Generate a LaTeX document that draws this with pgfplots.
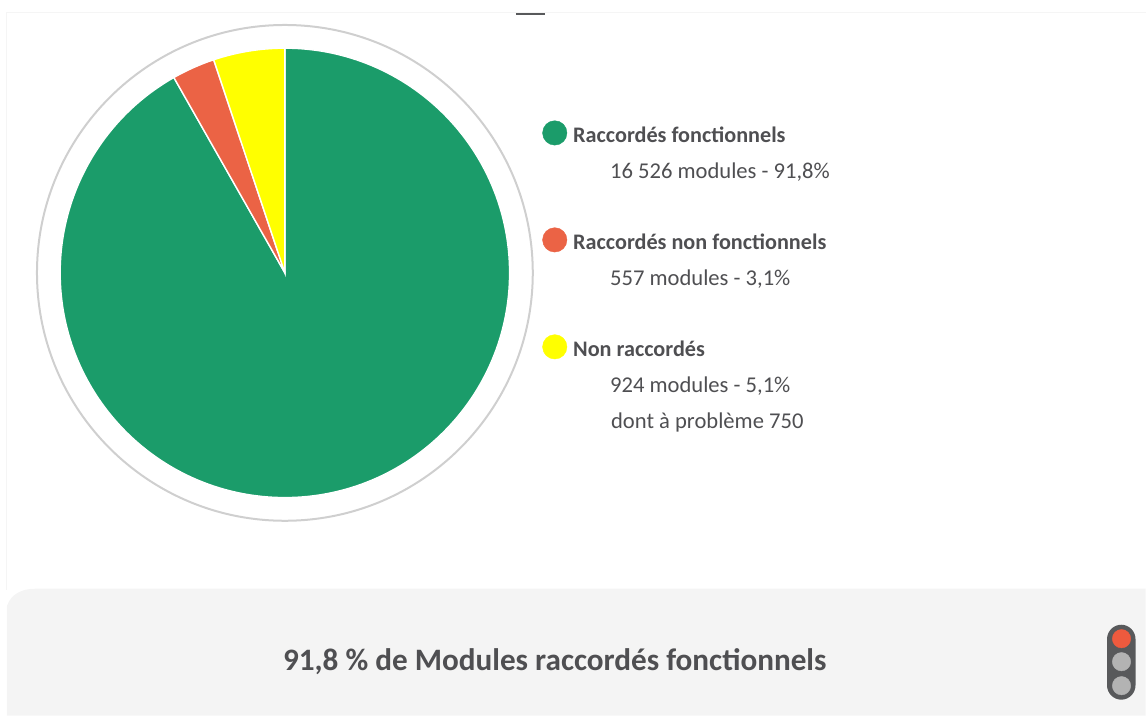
\documentclass[border=0pt]{standalone}
\usepackage{pgfplots}
\pgfplotsset{compat=1.18}
\usepackage{fontspec}
\setmainfont{Carlito}
\definecolor{cgreen}{HTML}{1B9C6A}
\definecolor{cred}{HTML}{EB6345}
\definecolor{cyellow}{HTML}{FFFF00}
\definecolor{ctext}{HTML}{4F4F52}
\definecolor{cpanel}{HTML}{F4F4F4}
\definecolor{cbody}{HTML}{58595B}
\definecolor{clight}{HTML}{EE5A3E}
\definecolor{coff}{HTML}{B3B3B3}
\definecolor{cring}{HTML}{CFCFCF}
% slice values (hundreds of modules: 16526, 557, 924)
\def\vGreen{165.26}
\def\vRed{5.57}
\def\vYellow{9.24}
\pgfmathsetmacro\vTotal{\vGreen+\vRed+\vYellow}
\pgfmathsetmacro\aGreen{\vGreen/\vTotal*360}
\pgfmathsetmacro\aRed{\vRed/\vTotal*360}
\pgfmathsetmacro\aYellow{\vYellow/\vTotal*360}
\begin{document}
\begin{tikzpicture}
\begin{axis}[
  scale only axis, width=573pt, height=358pt,
  xmin=0, xmax=1146, ymin=0, ymax=716, y dir=reverse,
  hide axis, clip=false,
]
% page extent
\path (axis cs:0,0) rectangle (axis cs:1146,716);
% frame lines
\draw[color=black!4, line width=0.5pt] (axis cs:7,590) -- (axis cs:7,13) -- (axis cs:1146,13);
\draw[color=cbody, line width=1pt] (axis cs:516,14.5) -- (axis cs:545,14.5);
% bottom panel
\fill[cpanel] (axis cs:7,716) -- (axis cs:7,606) to[out=70,in=180] (axis cs:35,589) -- (axis cs:1146,589) -- (axis cs:1146,716) -- cycle;
% ring
\draw[cring, line width=1pt] (axis cs:285,273) circle[radius=124pt];
% pie
\def\pc{(axis cs:285,273)}
\filldraw[fill=cgreen, draw=white, line width=0.7pt] \pc -- ++(90:112.4pt) arc[start angle=90, delta angle=-\aGreen, radius=112.4pt] -- cycle;
\pgfmathsetmacro\sRed{90-\aGreen}
\filldraw[fill=cred, draw=white, line width=0.7pt] \pc -- ++(\sRed:112.4pt) arc[start angle=\sRed, delta angle=-\aRed, radius=112.4pt] -- cycle;
\pgfmathsetmacro\sYellow{\sRed-\aRed}
\filldraw[fill=cyellow, draw=white, line width=0.7pt] \pc -- ++(\sYellow:112.4pt) arc[start angle=\sYellow, delta angle=-\aYellow, radius=112.4pt] -- cycle;
% legend markers
\addplot[only marks, mark=*, mark size=6.1pt, mark options={fill=cgreen, draw=cgreen, line width=0.2pt}] coordinates {(555,133)};
\addplot[only marks, mark=*, mark size=6.1pt, mark options={fill=cred, draw=cred, line width=0.2pt}] coordinates {(555,240)};
\addplot[only marks, mark=*, mark size=6.1pt, mark options={fill=cyellow, draw=cyellow, line width=0.2pt}] coordinates {(555,347)};
% legend text
\tikzset{lb/.style={anchor=base west, inner sep=0pt, text=ctext, font=\fontsize{11.1}{13}\selectfont\bfseries},
         lt/.style={anchor=base west, inner sep=0pt, text=ctext, font=\fontsize{11.3}{13}\selectfont}}
\node[lb] at (axis cs:573,143) {Raccordés fonctionnels};
\node[lt] at (axis cs:610,179) {16 526 modules - 91,8\%};
\node[lb] at (axis cs:573,250) {Raccordés non fonctionnels};
\node[lt] at (axis cs:610,286) {557 modules - 3,1\%};
\node[lb] at (axis cs:573,357) {Non raccordés};
\node[lt] at (axis cs:610,393) {924 modules - 5,1\%};
\node[lt] at (axis cs:611,429) {dont à problème 750};
% panel title
\node[anchor=base, inner sep=0pt, text=ctext, font=\fontsize{15.6}{18}\selectfont\bfseries] at (axis cs:555,671) {91,8 \% de Modules raccordés fonctionnels};
% traffic light
\fill[cbody, rounded corners=7.2pt] (axis cs:1107.5,625) rectangle (axis cs:1136,700);
\addplot[only marks, mark=*, mark size=4.6pt, mark options={fill=clight, draw=clight, line width=0.2pt}] coordinates {(1122,639)};
\addplot[only marks, mark=*, mark size=4.6pt, mark options={fill=coff, draw=coff, line width=0.2pt}] coordinates {(1122,662) (1122,686)};
\end{axis}
\end{tikzpicture}
\end{document}
